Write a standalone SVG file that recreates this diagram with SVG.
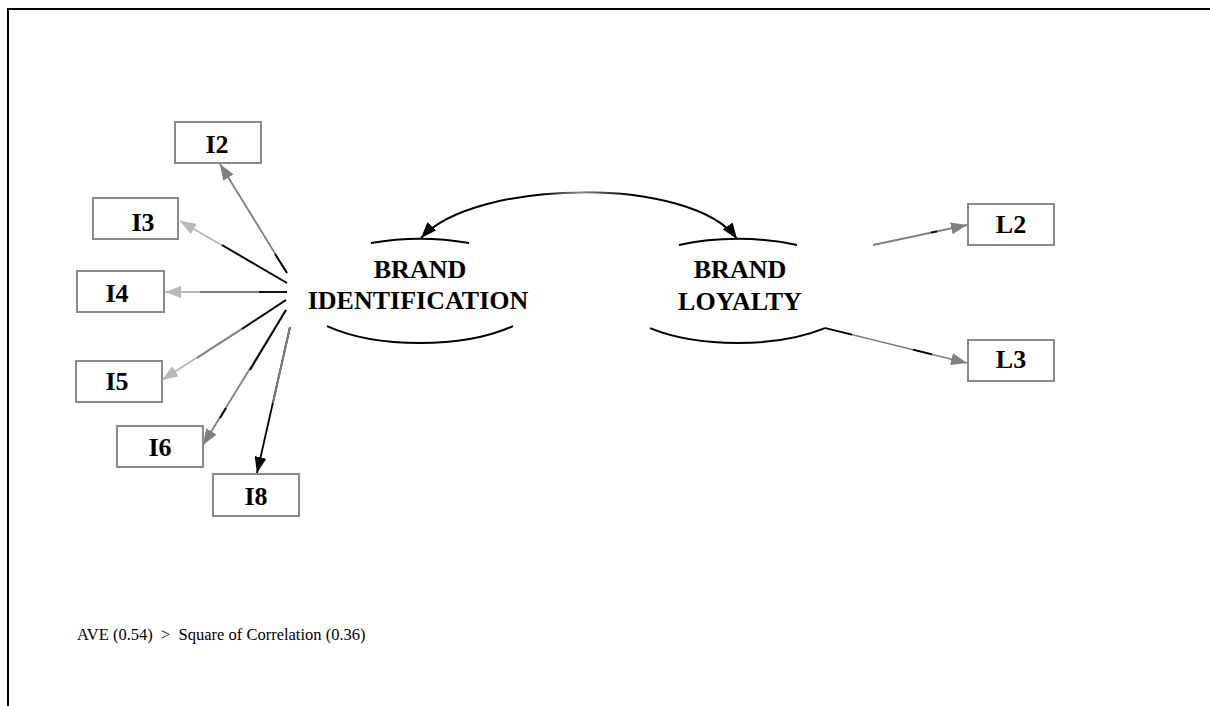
<svg xmlns="http://www.w3.org/2000/svg" width="1210" height="706" viewBox="0 0 1210 706">
<style>
.box{fill:#fff;stroke:#8a8a8a;stroke-width:2}
.lbl{font-family:"Liberation Serif","Times New Roman",serif;font-weight:bold;font-size:26px;fill:#000;text-anchor:middle}
.arc{fill:none;stroke:#000;stroke-width:2}
.c{fill:none;stroke-width:1.8}
.k{stroke:#000}
.g{stroke:#808080}
.l{stroke:#b8b8b8}
.note{font-family:"Liberation Serif","Times New Roman",serif;font-size:16.5px;fill:#000}
</style>
<defs>
<marker id="ak" viewBox="0 0 16 12" refX="16" refY="6" markerWidth="16" markerHeight="12" markerUnits="userSpaceOnUse" orient="auto-start-reverse"><path d="M0,0 L16,6 L0,12 z" fill="#000"/></marker>
<marker id="ag" viewBox="0 0 16 12" refX="16" refY="6" markerWidth="16" markerHeight="12" markerUnits="userSpaceOnUse" orient="auto"><path d="M0,0 L16,6 L0,12 z" fill="#808080"/></marker>
<marker id="al" viewBox="0 0 16 12" refX="16" refY="6" markerWidth="16" markerHeight="12" markerUnits="userSpaceOnUse" orient="auto"><path d="M0,0 L16,6 L0,12 z" fill="#b8b8b8"/></marker>
<linearGradient id="cg" gradientUnits="userSpaceOnUse" x1="421" y1="0" x2="737" y2="0">
<stop offset="0" stop-color="#000"/><stop offset="0.38" stop-color="#000"/><stop offset="0.5" stop-color="#8a8a8a"/><stop offset="0.66" stop-color="#000"/><stop offset="1" stop-color="#000"/>
</linearGradient>
</defs>
<rect width="1210" height="706" fill="#fff"/>
<g id="frame" fill="none" stroke="#000" stroke-width="2">
<path d="M8,706 L8,9 L1210,9"/>
</g>
<g id="connectors">
<path class="c g" d="M287,273 L220,164" marker-end="url(#ag)"/>
<path class="c k" d="M287,273 L275,254"/>
<path class="c l" d="M287,283 L180,221" marker-end="url(#al)"/>
<path class="c k" d="M287,283 L222,245"/>
<path class="c l" d="M287,292 L165,292" marker-end="url(#al)"/>
<path class="c g" d="M259,292 L200,292"/>
<path class="c k" d="M287,292 L259,292"/>
<path class="c l" d="M286,300 L162,380" marker-end="url(#al)"/>
<path class="c g" d="M242,329 L197,358"/>
<path class="c k" d="M286,300 L242,329"/>
<path class="c g" d="M286,310 L203,445" marker-end="url(#ag)"/>
<path class="c k" d="M286,310 L250,370"/>
<path class="c k" d="M226,408 L220,418"/>
<path class="c k" d="M290,327 L257,473" marker-end="url(#ak)"/>
<path class="c g" d="M290,327 L273,403"/>
<path class="c g" d="M873,245 L967,225" marker-end="url(#ag)"/>
<path class="c k" d="M931,232.7 L937,231.4"/>
<path class="c g" d="M825,328 L967,363" marker-end="url(#ag)"/>
<path class="c k" d="M825,328 L852,334.7"/>
<path class="c k" d="M913,349.7 L932,354.4"/>
<path fill="none" stroke="url(#cg)" stroke-width="2" d="M421,238 C476,178 692,176 737,239"/>
<path fill="none" stroke="none" d="M421,238 C476,178 692,176 737,239" marker-start="url(#ak)" marker-end="url(#ak)"/>
</g>
<g id="brand-identification">
<path class="arc" d="M371,243.1 A126,52 0 0 1 469,243.1"/>
<path class="arc" d="M327,326.1 A126,52 0 0 0 513,326.1"/>
<text class="lbl" x="420" y="278">BRAND</text>
<text class="lbl" x="418" y="309">IDENTIFICATION</text>
</g>
<g id="brand-loyalty">
<path class="arc" d="M679,245 A125,52 0 0 1 797,245"/>
<path class="arc" d="M650,328.1 A125,52 0 0 0 825,328.1"/>
<text class="lbl" x="740" y="278">BRAND</text>
<text class="lbl" x="740" y="310">LOYALTY</text>
</g>
<g id="I2"><rect class="box" x="175" y="122" width="86" height="41"/><text class="lbl" x="217" y="153">I2</text></g>
<g id="I3"><rect class="box" x="93" y="198" width="85" height="41"/><text class="lbl" x="143" y="231">I3</text></g>
<g id="I4"><rect class="box" x="77" y="271" width="87" height="41"/><text class="lbl" x="117" y="302">I4</text></g>
<g id="I5"><rect class="box" x="76" y="361" width="86" height="41"/><text class="lbl" x="117" y="390">I5</text></g>
<g id="I6"><rect class="box" x="117" y="426" width="86" height="41"/><text class="lbl" x="160" y="456">I6</text></g>
<g id="I8"><rect class="box" x="213" y="474" width="86" height="42"/><text class="lbl" x="256" y="505">I8</text></g>
<g id="L2"><rect class="box" x="968" y="204" width="86" height="41"/><text class="lbl" x="1011" y="233">L2</text></g>
<g id="L3"><rect class="box" x="968" y="340" width="86" height="41"/><text class="lbl" x="1011" y="368">L3</text></g>
<text class="note" x="77" y="640" xml:space="preserve">AVE (0.54)  &gt;  Square of Correlation (0.36)</text>
</svg>
